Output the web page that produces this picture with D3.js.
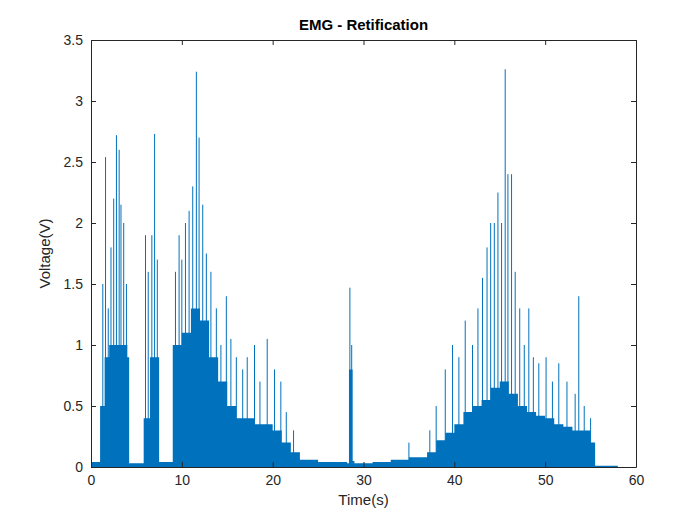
<!DOCTYPE html>
<html><head><meta charset="utf-8">
<script src="https://cdn.jsdelivr.net/npm/d3@7"></script>
<style>body{margin:0;background:#fff}svg{font-family:"Liberation Sans",Arial,sans-serif}</style>
</head><body><svg id="chart"></svg>
<script>
// dense "body" level of the rectified signal (time s, volts)
const bodyT = [0,1,1.5,2,3,4,4.2,5.8,6.5,7.5,8.8,9,10,11,12,13,14,15,16,17,18,19,20,21,22,23,25,28.2,28.4,28.8,29,31,33,35,37,38,39,40,41,42,43,44,45,46,47,48,49,50,51,52,53,54,55,55.5,58];
const bodyV = [0.04,0.5,0.9,1.0,1.0,0.9,0.03,0.4,0.9,0.04,0.04,1.0,1.1,1.3,1.2,0.9,0.7,0.5,0.4,0.4,0.35,0.35,0.3,0.2,0.12,0.06,0.04,0.03,0.8,0.05,0.03,0.04,0.06,0.08,0.12,0.22,0.28,0.35,0.45,0.5,0.55,0.65,0.7,0.6,0.5,0.45,0.42,0.4,0.35,0.33,0.3,0.3,0.2,0.01,0.01];
// individual spikes
const spikeT = [1.3,1.6,1.9,2.2,2.5,2.8,3.1,3.3,3.6,3.9,6.0,6.3,6.7,7.0,7.3,9.3,9.7,10.0,10.4,10.8,11.2,11.6,11.9,12.3,12.7,13.2,13.8,14.3,14.9,15.4,16.0,16.7,17.2,18.0,18.6,19.4,20.2,20.9,21.5,22.3,28.5,28.7,35,37.3,38,39,39.8,40.5,41.2,42,42.6,43.1,43.6,44,44.4,44.8,45.2,45.6,45.9,46.3,46.7,47.2,47.7,48.2,48.7,49.3,50.1,50.8,51.5,52.4,53.3,53.7,54.3,55];
const spikeV = [1.5,2.54,1.3,1.8,2.2,2.72,2.6,2.15,2.0,1.5,1.9,1.6,1.9,2.73,1.7,1.6,1.9,1.7,2.0,2.1,2.3,3.24,2.7,2.15,1.75,1.6,1.3,1.0,1.4,1.05,0.9,0.8,0.9,1.0,0.7,1.05,0.8,0.7,0.45,0.3,1.47,1.0,0.2,0.3,0.5,0.8,1.0,0.9,1.2,1.0,1.3,1.55,1.8,2.0,2.0,2.25,2.0,3.26,2.4,2.4,1.6,1.3,1.0,1.3,0.9,0.85,0.9,0.7,0.85,0.7,0.6,1.4,0.5,0.4];
const xTicks = [0,10,20,30,40,50,60];
const yTicks = [0,0.5,1,1.5,2,2.5,3,3.5];

const W = 700, H = 525, L = 91, R = 636, T = 40, B = 467;
const svg = d3.select("#chart").attr("width", W).attr("height", H);
const x = d3.scaleLinear().domain([0, 60]).range([L, R]);
const y = d3.scaleLinear().domain([0, 3.5]).range([B, T]);
const blue = "#0072BD";

svg.append("path").datum(bodyT.map((t, i) => [t, bodyV[i]]))
  .attr("fill", blue)
  .attr("d", d3.area().x(d => x(d[0])).y0(y(0)).y1(d => y(d[1])).curve(d3.curveStepAfter));

svg.selectAll("line.spike").data(spikeT).enter().append("line")
  .attr("class", "spike")
  .attr("x1", d => x(d)).attr("x2", d => x(d))
  .attr("y1", y(0)).attr("y2", (d, i) => y(spikeV[i]))
  .attr("stroke", blue).attr("stroke-width", 1);

const xa = svg.append("g").attr("transform", `translate(0,${B})`)
  .call(d3.axisBottom(x).tickValues(xTicks).tickSizeInner(-5).tickSizeOuter(0).tickPadding(8));
const xt = svg.append("g").attr("transform", `translate(0,${T})`)
  .call(d3.axisTop(x).tickValues(xTicks).tickSizeInner(-5).tickSizeOuter(0).tickFormat(""));
const ya = svg.append("g").attr("transform", `translate(${L},0)`)
  .call(d3.axisLeft(y).tickValues(yTicks).tickSizeInner(-5).tickSizeOuter(0).tickPadding(8).tickFormat(d3.format("")));
const yr = svg.append("g").attr("transform", `translate(${R},0)`)
  .call(d3.axisRight(y).tickValues(yTicks).tickSizeInner(-5).tickSizeOuter(0).tickFormat(""));
[xa, xt, ya, yr].forEach(g => {
  g.selectAll("path,line").attr("stroke", "#262626");
  g.selectAll("text").attr("fill", "#262626").style("font-size", "14px");
});

svg.append("text").attr("x", (L + R) / 2).attr("y", 30).attr("text-anchor", "middle")
  .style("font-size", "15px").style("font-weight", "bold").text("EMG - Retification");
svg.append("text").attr("x", (L + R) / 2).attr("y", 505).attr("text-anchor", "middle")
  .style("font-size", "15px").attr("fill", "#262626").text("Time(s)");
svg.append("text").attr("transform", `translate(50,${(T + B) / 2}) rotate(-90)`).attr("text-anchor", "middle")
  .style("font-size", "15px").attr("fill", "#262626").text("Voltage(V)");
</script></body></html>
